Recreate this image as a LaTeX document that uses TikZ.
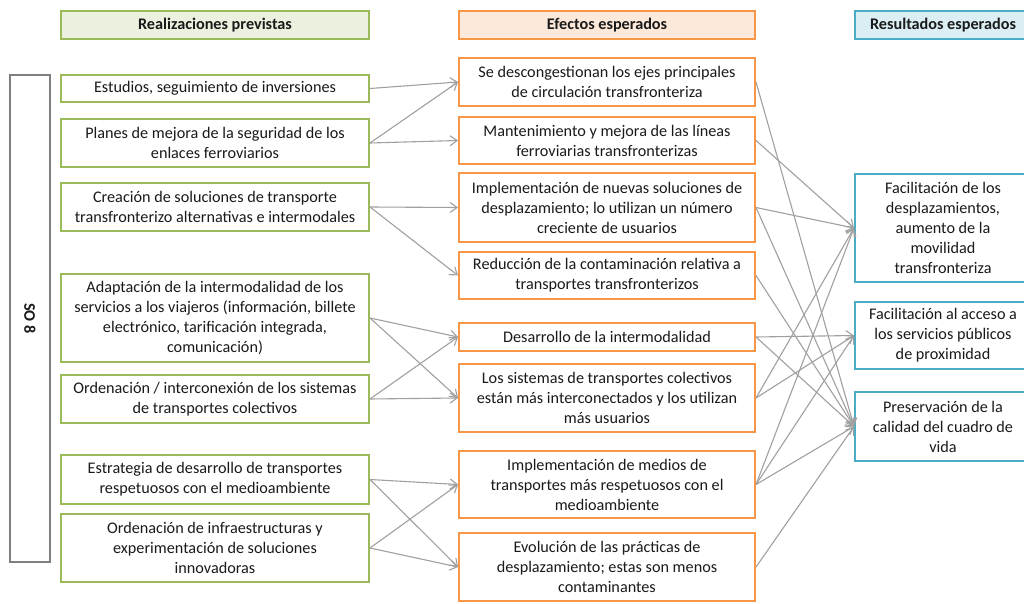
\documentclass[tikz,border=0pt]{standalone}
\usepackage{fontspec}
\setmainfont{Carlito}
\usetikzlibrary{arrows.meta}
\definecolor{realgreen}{HTML}{9BBB59}
\definecolor{realgreenbg}{HTML}{EBF1DE}
\definecolor{efecorange}{HTML}{F79646}
\definecolor{efecorangebg}{HTML}{FDE9D9}
\definecolor{resblue}{HTML}{4BACC6}
\definecolor{resbluebg}{HTML}{DAEEF3}
\definecolor{osgray}{HTML}{7F7F7F}
\definecolor{linkgray}{HTML}{A0A0A0}
\definecolor{textdark}{HTML}{1A1A1A}
\tikzset{
  realbox/.style={draw=realgreen, line width=2pt, fill=white, minimum width=308pt, align=center, inner sep=2pt},
  efecbox/.style={draw=efecorange, line width=2pt, fill=white, minimum width=296pt, align=center, inner sep=2pt},
  resbox/.style={draw=resblue, line width=2pt, fill=white, minimum width=176pt, align=center, inner sep=2pt},
  headbox/.style={font=\fontsize{16.2}{20}\selectfont\bfseries, minimum height=28pt},
  link/.style={draw=linkgray, line width=1.1pt, -{Straight Barb[length=7pt,width=10pt]}}
}
\begin{document}
\begin{tikzpicture}[x=1pt,y=-1pt,font=\fontsize{16.2}{20}\selectfont,text=textdark]
    %three columns of boxes, then the arrows from column to column
    %positions are in pixels of the 1024x604 page, y runs down
  \clip (0,0) rectangle (1024,604);
  \fill[white] (0,0) rectangle (1024,604);

  \node[realbox,headbox,fill=realgreenbg] (hreal) at (215,25) {Realizaciones previstas};
  \node[efecbox,headbox,fill=efecorangebg] (hefec) at (607,25) {Efectos esperados};
  \node[resbox,headbox,fill=resbluebg] (hres) at (943,25) {Resultados esperados};

  \node[draw=osgray, line width=2pt, fill=white, minimum width=487pt, minimum height=40pt,
        rotate=-90, font=\fontsize{16.2}{20}\selectfont\bfseries] (os) at (30,318.5) {SO 8};

  \node[realbox, minimum height=27pt] (l1) at (215,88.5) {Estudios, seguimiento de inversiones};
  \node[realbox, minimum height=48pt] (l2) at (215,143) {Planes de mejora de la seguridad de los\\enlaces ferroviarios};
  \node[realbox, minimum height=48pt] (l3) at (215,207) {Creación de soluciones de transporte\\transfronterizo alternativas e intermodales};
  \node[realbox, minimum height=88pt] (l4) at (215,318) {Adaptación de la intermodalidad de los\\servicios a los viajeros (información, billete\\electrónico, tarificación integrada,\\comunicación)};
  \node[realbox, minimum height=48pt] (l5) at (215,399) {Ordenación / interconexión de los sistemas\\de transportes colectivos};
  \node[realbox, minimum height=49pt] (l6) at (215,479.5) {Estrategia de desarrollo de transportes\\respetuosos con el medioambiente};
  \node[realbox, minimum height=68pt] (l7) at (215,548) {Ordenación de infraestructuras y\\experimentación de soluciones\\innovadoras};

  \node[efecbox, minimum height=48pt] (e1) at (607,82) {Se descongestionan los ejes principales\\de circulación transfronteriza};
  \node[efecbox, minimum height=47pt] (e2) at (607,140.5) {Mantenimiento y mejora de las líneas\\ferroviarias transfronterizas};
  \node[efecbox, minimum height=69pt] (e3) at (607,207.5) {Implementación de nuevas soluciones de\\desplazamiento; lo utilizan un número\\creciente de usuarios};
  \node[efecbox, minimum height=47pt] (e4) at (607,275.5) {Reducción de la contaminación relativa a\\transportes transfronterizos};
  \node[efecbox, minimum height=28pt] (e5) at (607,337) {Desarrollo de la intermodalidad};
  \node[efecbox, minimum height=68pt] (e6) at (607,398) {Los sistemas de transportes colectivos\\están más interconectados y los utilizan\\más usuarios};
  \node[efecbox, minimum height=67pt] (e7) at (607,484.5) {Implementación de medios de\\transportes más respetuosos con el\\medioambiente};
  \node[efecbox, minimum height=68pt] (e8) at (607,567) {Evolución de las prácticas de\\desplazamiento; estas son menos\\contaminantes};

  \node[resbox, minimum height=108pt] (r1) at (943,228) {Facilitación de los\\desplazamientos,\\aumento de la\\movilidad\\transfronteriza};
  \node[resbox, minimum height=67pt] (r2) at (943,335.5) {Facilitación al acceso a\\los servicios públicos\\de proximidad};
  \node[resbox, minimum height=69pt] (r3) at (943,426.5) {Preservación de la\\calidad del cuadro de\\vida};

  \foreach \a/\b in {l1/e1,l2/e1,l2/e2,l3/e3,l3/e4,l4/e5,l4/e6,l5/e5,l5/e6,l6/e7,l6/e8,l7/e7,l7/e8}
    \draw[link] (\a.east) -- (\b.west);
  \foreach \a/\b in {e1/r3,e2/r1,e3/r1,e3/r3,e4/r3,e5/r2,e5/r3,e6/r1,e6/r2,e7/r1,e7/r2,e7/r3,e8/r3}
    \draw[link] (\a.east) -- (\b.west);
\end{tikzpicture}
\end{document}
